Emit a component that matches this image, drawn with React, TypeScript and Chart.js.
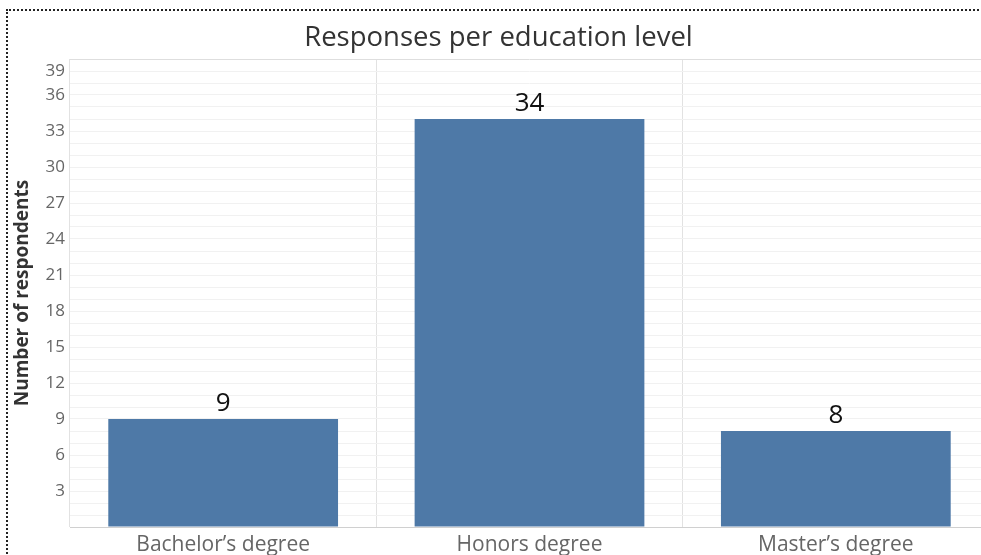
import React, { useEffect, useRef } from "react";
import { Chart, registerables } from "chart.js";

Chart.register(...registerables);

const chartTitle = "Responses per education level";
const yAxisTitle = "Number of respondents";
const categories = ["Bachelor’s degree", "Honors degree", "Master’s degree"];
const respondents = [9, 34, 8];
const yTickValues = [3, 6, 9, 12, 15, 18, 21, 24, 27, 30, 33, 36, 39];
const yMax = 39;

const FONT = "'Open Sans', 'Noto Sans', sans-serif";

const overlayPlugin = {
  id: "overlays",
  afterDraw(chart: any) {
    const ctx = chart.ctx;
    const yScale = chart.scales.y;
    ctx.save();
    // main title
    ctx.fillStyle = "#333333";
    ctx.font = `27.5px ${FONT}`;
    ctx.textAlign = "center";
    ctx.textBaseline = "alphabetic";
    ctx.fillText(chartTitle, 498.5, 46);

    // y axis title
    ctx.save();
    ctx.translate(23, (chart.chartArea.top + chart.chartArea.bottom) / 2);
    ctx.rotate(-Math.PI / 2);
    ctx.font = `bold 19px ${FONT}`;
    ctx.textAlign = "center";
    ctx.textBaseline = "middle";
    ctx.fillStyle = "#333333";
    ctx.fillText(yAxisTitle, 0, 0);
    ctx.restore();

    // top tick label, shifted inside like the original
    const topVal = yTickValues[yTickValues.length - 1];
    ctx.font = `17px ${FONT}`;
    ctx.fillStyle = "#666666";
    ctx.textAlign = "right";
    ctx.textBaseline = "middle";
    ctx.fillText(String(topVal), chart.chartArea.left - 5, yScale.getPixelForValue(topVal) + 12);

    // value labels
    const meta = chart.getDatasetMeta(0);
    ctx.font = `26px ${FONT}`;
    ctx.fillStyle = "#111111";
    ctx.textAlign = "center";
    ctx.textBaseline = "alphabetic";
    meta.data.forEach((el: any, i: number) => {
      ctx.fillText(String(respondents[i]), el.x, el.y - 8);
    });
    ctx.restore();
  },
};

export default function App() {
  const ref = useRef<HTMLCanvasElement>(null);
  useEffect(() => {
    if (!ref.current) return;
    const chart = new Chart(ref.current, {
      type: "bar",
      data: {
        labels: categories,
        datasets: [
          {
            data: respondents,
            backgroundColor: "#4e79a7",
            borderWidth: 0,
            barPercentage: 0.75,
            categoryPercentage: 1,
          },
        ],
      },
      options: {
        responsive: false,
        animation: false,
        devicePixelRatio: 1,
        layout: { padding: { top: 59, left: 0, right: 11, bottom: 0 } },
        plugins: {
          legend: { display: false },
          title: { display: false },
          tooltip: { enabled: false },
        },
        scales: {
          x: {
            afterFit: (s: any) => {
              s.height = 28;
            },
            grid: { color: "#e2e2e2", drawTicks: false, offset: true },
            border: { display: true, color: "#d0d0d0" },
            ticks: {
              color: "#666666",
              font: { family: FONT, size: 21 },
              padding: 5,
              maxRotation: 0,
              autoSkip: false,
            },
          },
          y: {
            min: 0,
            max: yMax,
            afterFit: (s: any) => {
              s.width = 70;
            },
            grid: {
              drawTicks: false,
              color: (c: any) =>
                c.tick && c.tick.value === yMax ? "#dedede" : c.tick && c.tick.value === 0 ? "#d0d0d0" : "#f1f1f1",
            },
            border: { display: false },
            ticks: {
              stepSize: 1,
              maxTicksLimit: 100,
              autoSkip: false,
              padding: 5,
              color: "#666666",
              font: { family: FONT, size: 17 },
              callback: (v: any) =>
                yTickValues.includes(v) && v !== yTickValues[yTickValues.length - 1] ? String(v) : "",
            },
          },
        },
      },
      plugins: [overlayPlugin],
    });
    return () => chart.destroy();
  }, []);

  return (
    <div
      style={{
        position: "fixed",
        left: 0,
        top: 0,
        width: 981,
        height: 555,
        overflow: "hidden",
        background: "#ffffff",
      }}
    >
      <div
        style={{
          position: "absolute",
          left: 6,
          top: 9,
          width: 1200,
          height: 1000,
          border: "2px dotted #222",
          boxSizing: "border-box",
        }}
      />
      <canvas
        ref={ref}
        width={1000}
        height={555}
        style={{ position: "absolute", left: 0, top: 0, display: "block" }}
      />
    </div>
  );
}
